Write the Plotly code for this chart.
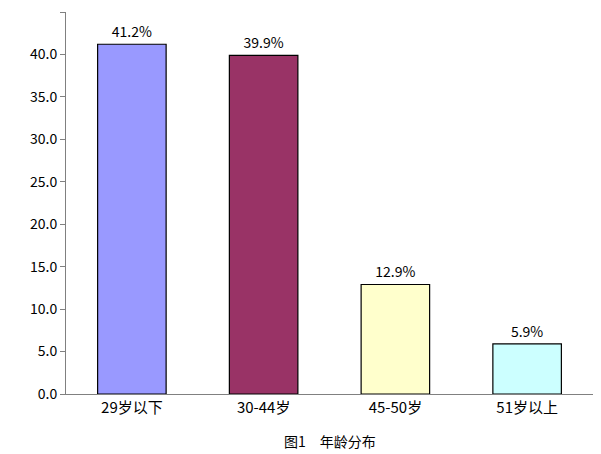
import plotly.graph_objects as go

categories = ["29岁以下", "30-44岁", "45-50岁", "51岁以上"]
values = [41.2, 39.9, 12.9, 5.9]
labels = ["41.2%", "39.9%", "12.9%", "5.9%"]
colors = ["#9999FF", "#993366", "#FFFFCC", "#CCFFFF"]
tick_vals = [0, 5, 10, 15, 20, 25, 30, 35, 40, 45]

fig = go.Figure(go.Bar(
    x=categories, y=values, text=labels, textposition="outside",
    marker=dict(color=colors, line=dict(color="black", width=1.2)),
    width=0.52, cliponaxis=False,
    textfont=dict(size=14, color="black"),
))

fig.update_layout(
    width=601, height=454,
    margin=dict(l=58, r=16, t=4, b=68),
    plot_bgcolor="white", paper_bgcolor="white",
    font=dict(family="Noto Sans CJK SC", size=14, color="black"),
    showlegend=False,
    annotations=[dict(text="图1　年龄分布", x=0.5, xref="paper", y=-0.155,
                      yref="paper", showarrow=False, font=dict(size=14))],
)
fig.update_yaxes(range=[0, 45], tickvals=tick_vals,
                 ticktext=[f"{v:.1f}" for v in tick_vals],
                 showgrid=False, showline=True, linecolor="#808080",
                 ticks="outside", ticklen=5, tickcolor="#808080", zeroline=False)
fig.update_xaxes(showline=True, linecolor="#808080", ticks="",
                 showgrid=False, tickfont=dict(size=15))

fig.write_html("out.html")
